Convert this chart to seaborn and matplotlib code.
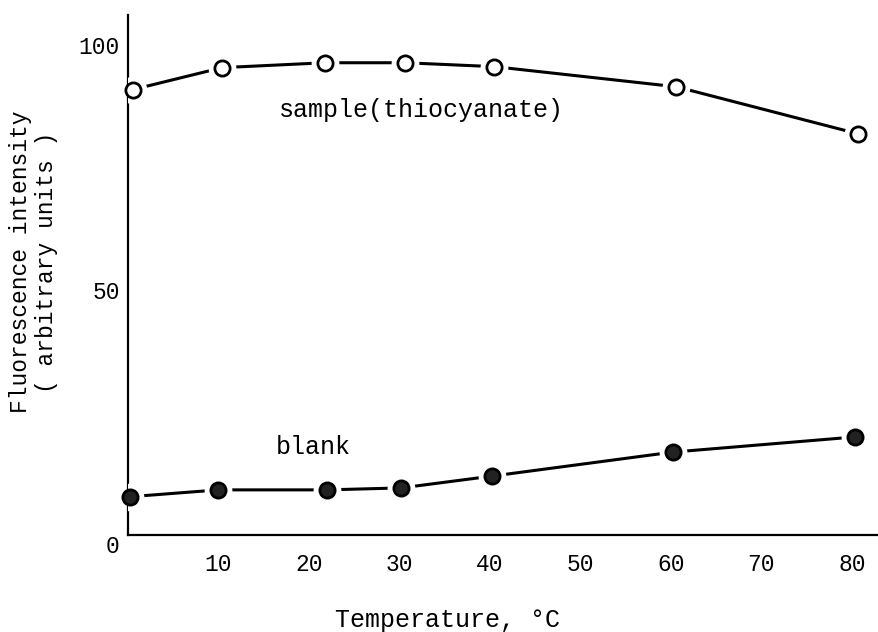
import matplotlib
matplotlib.use("Agg")
import matplotlib.pyplot as plt
import seaborn as sns
import pandas as pd

temperature = [0.5, 10.4, 21.8, 30.6, 40.5, 60.6, 80.7]
sample_values = [90.8, 95.3, 96.3, 96.3, 95.5, 91.4, 81.8]
blank_temperature = [0.2, 10.0, 22.0, 30.2, 40.2, 60.2, 80.4]
blank_values = [7.8, 9.2, 9.2, 9.6, 12.0, 16.9, 20.0]
x_ticks = [10, 20, 30, 40, 50, 60, 70, 80]
y_ticks = [0, 50, 100]

sns.set_theme(style="white")
plt.rcParams['font.family'] = ['Liberation Mono', 'DejaVu Sans Mono']
plt.rcParams['text.color'] = 'black'
plt.rcParams['axes.labelcolor'] = 'black'

df_s = pd.DataFrame({"T": temperature, "F": sample_values})
df_b = pd.DataFrame({"T": blank_temperature, "F": blank_values})

fig = plt.figure(figsize=(8.79, 6.32), dpi=100)
ax = fig.add_axes([0.1456, 0.1535, 0.8544, 0.8225])

for df, fill in [(df_s, "white"), (df_b, "#222222")]:
    sns.lineplot(data=df, x="T", y="F", ax=ax, color="black", linewidth=2.2, zorder=2)
    ax.scatter(df["T"], df["F"], s=400, color="white", zorder=3, linewidths=0)
    ax.scatter(df["T"], df["F"], s=120, facecolor=fill, edgecolor="black",
               linewidths=2.0, zorder=4, clip_on=False)

ax.set_xlim(0, 83)
ax.set_ylim(0, 106)
ax.set_xticks(x_ticks)
ax.set_yticks(y_ticks)
ax.tick_params(axis="both", direction="in", length=8, width=1.5, labelsize=16.5,
               color="black", labelcolor="black")
ax.tick_params(axis="x", pad=13)
ax.tick_params(axis="y", pad=6)
ax.get_yticklabels()[0].set_va("top")
for side in ["top", "right"]:
    ax.spines[side].set_visible(False)
for side in ["left", "bottom"]:
    ax.spines[side].set_color("black")
    ax.spines[side].set_linewidth(1.6)

ax.set_xlabel("Temperature, °C", fontsize=18, labelpad=20)
ax.xaxis.set_label_coords(0.426, -0.14)
ax.set_ylabel("Fluorescence intensity\n( arbitrary units )", fontsize=16.5,
              linespacing=1.15)
ax.yaxis.set_label_coords(-0.093, 0.525)

ax.text(16.7, 86.7, "sample(thiocyanate)", fontsize=18, va="center", ha="left")
ax.text(16.3, 18.0, "blank", fontsize=18, va="center", ha="left")

fig.savefig("out.png", dpi=100)
